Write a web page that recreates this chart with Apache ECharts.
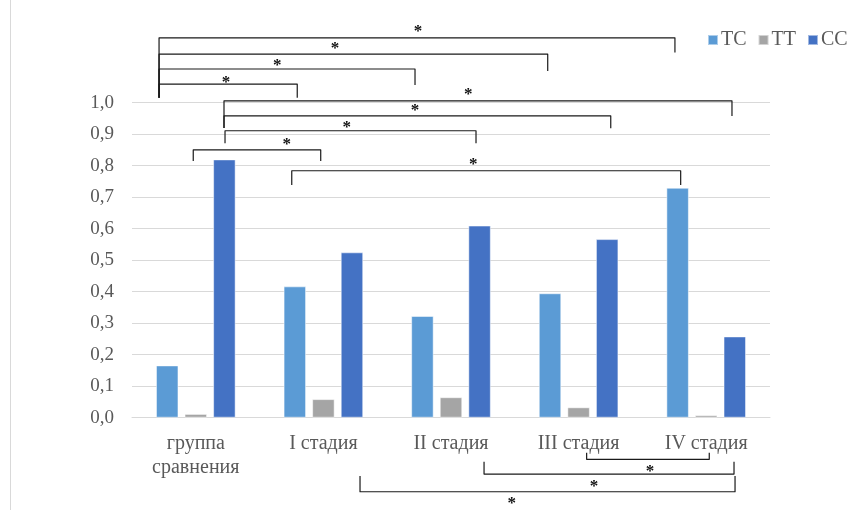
<!DOCTYPE html>
<html>
<head>
<meta charset="utf-8">
<script src="https://cdn.jsdelivr.net/npm/echarts@6/dist/echarts.min.js"></script>
<style>
  html, body { margin: 0; padding: 0; background: #fff; }
  #chart { width: 862px; height: 510px; }
</style>
</head>
<body>
<div id="chart"></div>
<script>
// Genotype frequencies by group
const categories = ['группа\nсравнения', 'I стадия', 'II стадия', 'III стадия', 'IV стадия'];
const seriesNames = ['TC', 'TT', 'CC'];
const tcValues = [0.166, 0.417, 0.323, 0.395, 0.73];
const ttValues = [0.012, 0.059, 0.065, 0.033, 0.008];
const ccValues = [0.82, 0.525, 0.61, 0.567, 0.258];
const yTickLabels = ['0,0', '0,1', '0,2', '0,3', '0,4', '0,5', '0,6', '0,7', '0,8', '0,9', '1,0'];

// Significance brackets in axis units: x in category bands (0..5), y in values.
// x1/x2 = ends, y = bar level, y1/y2 = leg ends, sx/sy = asterisk position.
const brackets = [
  { x1: 0.212, x2: 4.255, y: 1.206, y1: 1.016, y2: 1.159, sx: 2.241, sy: 1.238 },
  { x1: 0.212, x2: 3.258, y: 1.154, y1: 1.016, y2: 1.101, sx: 1.591, sy: 1.183 },
  { x1: 0.212, x2: 2.218, y: 1.107, y1: 1.016, y2: 1.056, sx: 1.139, sy: 1.130 },
  { x1: 0.212, x2: 1.295, y: 1.059, y1: 1.016, y2: 1.016, sx: 0.737, sy: 1.077 },
  { x1: 0.721, x2: 4.702, y: 1.006, y1: 0.920, y2: 0.958, sx: 2.636, sy: 1.037 },
  { x1: 0.721, x2: 3.752, y: 0.958, y1: 0.920, y2: 0.919, sx: 2.218, sy: 0.987 },
  { x1: 0.729, x2: 2.696, y: 0.911, y1: 0.871, y2: 0.871, sx: 1.683, sy: 0.935 },
  { x1: 0.480, x2: 1.479, y: 0.850, y1: 0.815, y2: 0.815, sx: 1.212, sy: 0.879 },
  { x1: 1.252, x2: 4.300, y: 0.784, y1: 0.739, y2: 0.739, sx: 2.675, sy: 0.815 },
  { x1: 3.563, x2: 4.524, y: -0.132, y1: -0.111, y2: -0.111, sx: 4.060, sy: -0.157 },
  { x1: 2.759, x2: 4.718, y: -0.179, y1: -0.140, y2: -0.140, sx: 3.621, sy: -0.206 },
  { x1: 1.787, x2: 4.726, y: -0.235, y1: -0.185, y2: -0.185, sx: 2.976, sy: -0.261 }
];

const colors = ['#5B9BD5', '#A5A5A5', '#4472C4'];
const serif = '"Liberation Serif", "DejaVu Serif", serif';
const textColor = '#595959';

const chart = echarts.init(document.getElementById('chart'), null, { renderer: 'canvas' });

const makeBar = (name, data, color) => ({
  name, type: 'bar', data,
  barWidth: 22.5, barGap: '27%',
  itemStyle: { color, borderColor: 'rgba(255,255,255,0.5)', borderWidth: 1 },
  emphasis: { disabled: true }
});

chart.setOption({
  animation: false,
  backgroundColor: '#fff',
  color: colors,
  legend: {
    data: seriesNames,
    left: 707, top: 30, padding: 0,
    icon: 'rect', itemWidth: 10, itemHeight: 10, itemGap: 11,
    textStyle: { fontFamily: serif, fontSize: 20, color: textColor, padding: [0, 0, 0, -2] }
  },
  grid: { left: 132, right: 92, top: 102.7, bottom: 92.3, containLabel: false },
  xAxis: {
    type: 'category', data: categories,
    axisLine: { show: true, lineStyle: { color: '#D9D9D9' } },
    axisTick: { show: false },
    axisLabel: { fontFamily: serif, fontSize: 20, color: textColor, margin: 14, lineHeight: 24, verticalAlign: 'top' }
  },
  yAxis: {
    type: 'value', min: 0, max: 1, interval: 0.1,
    axisLine: { show: false }, axisTick: { show: false },
    splitLine: { lineStyle: { color: '#D9D9D9', width: 1 } },
    axisLabel: {
      fontFamily: serif, fontSize: 19, color: textColor, margin: 18,
      formatter: v => yTickLabels[Math.round(v * 10)]
    }
  },
  series: [
    makeBar(seriesNames[0], tcValues, colors[0]),
    makeBar(seriesNames[1], ttValues, colors[1]),
    makeBar(seriesNames[2], ccValues, colors[2])
  ]
});

// Position brackets through the axes' own scales
const c0 = chart.convertToPixel({ xAxisIndex: 0 }, 0);
const c1 = chart.convertToPixel({ xAxisIndex: 0 }, 1);
const band = c1 - c0;
const px = u => c0 + (u - 0.5) * band;
const py = v => chart.convertToPixel({ yAxisIndex: 0 }, v);

const graphics = [{
  type: 'line', shape: { x1: 10.5, y1: 0, x2: 10.5, y2: 510 },
  style: { stroke: '#D9D9D9', lineWidth: 1 }, silent: true
}];
brackets.forEach(b => {
  graphics.push({
    type: 'polyline', silent: true,
    shape: { points: [[px(b.x1), py(b.y1)], [px(b.x1), py(b.y)], [px(b.x2), py(b.y)], [px(b.x2), py(b.y2)]] },
    style: { stroke: '#1a1a1a', lineWidth: 1.2, fill: null, lineJoin: 'round' }
  });
  graphics.push({
    type: 'text', silent: true,
    x: px(b.sx), y: py(b.sy) + 4,
    style: { text: '*', font: 'bold 17px ' + serif, fill: '#111', align: 'center', verticalAlign: 'middle' }
  });
});
chart.setOption({ graphic: graphics });
</script>
</body>
</html>
